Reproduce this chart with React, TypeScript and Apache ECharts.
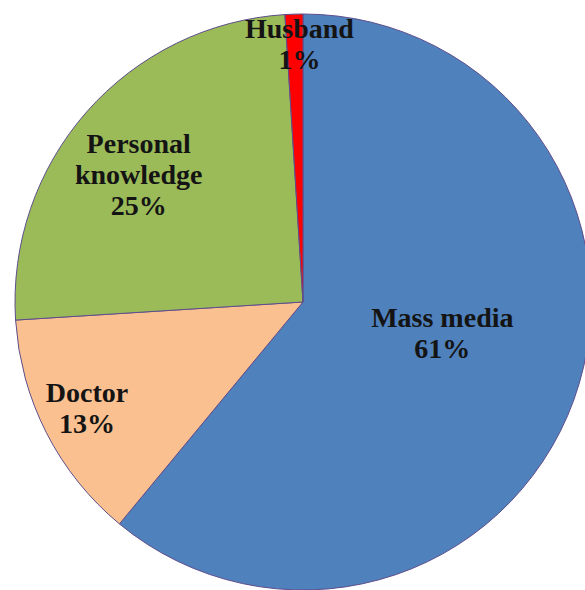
import React, { useEffect, useRef } from "react";
import * as echarts from "echarts";

const categories = ["Mass media", "Doctor", "Personal knowledge", "Husband"];
const values = [61, 13, 25, 1];
const labelTexts = ["Mass media\n61%", "Doctor\n13%", "Personal\nknowledge\n25%", "Husband\n1%"];
const colors = ["#4F81BD", "#FAC090", "#9BBB59", "#FF0000"];
const labelOffsets: [number, number][] = [
  [1, -19],
  [-85, 39],
  [-54, -30],
  [1, -111],
];

export default function App() {
  const ref = useRef<HTMLDivElement>(null);
  useEffect(() => {
    document.body.style.margin = "0";
    const chart = echarts.init(ref.current!, undefined, { renderer: "svg" });
    chart.setOption({
      animation: false,
      backgroundColor: "#ffffff",
      series: [
        {
          type: "pie",
          center: [303, 302],
          radius: 288,
          startAngle: 90,
          clockwise: true,
          silent: true,
          itemStyle: { borderColor: "#5E4E8C", borderWidth: 1 },
          label: {
            show: true,
            position: "inside",
            fontFamily: "Liberation Serif",
            fontWeight: "bold",
            fontSize: 28,
            lineHeight: 31,
            color: "#141414",
            align: "center",
          },
          labelLine: { show: false },
          data: categories.map((name, i) => ({
            name,
            value: values[i],
            itemStyle: { color: colors[i] },
            label: { formatter: labelTexts[i], offset: labelOffsets[i] },
          })),
        },
      ],
    });
    return () => chart.dispose();
  }, []);
  return <div ref={ref} style={{ width: 585, height: 590 }} />;
}
